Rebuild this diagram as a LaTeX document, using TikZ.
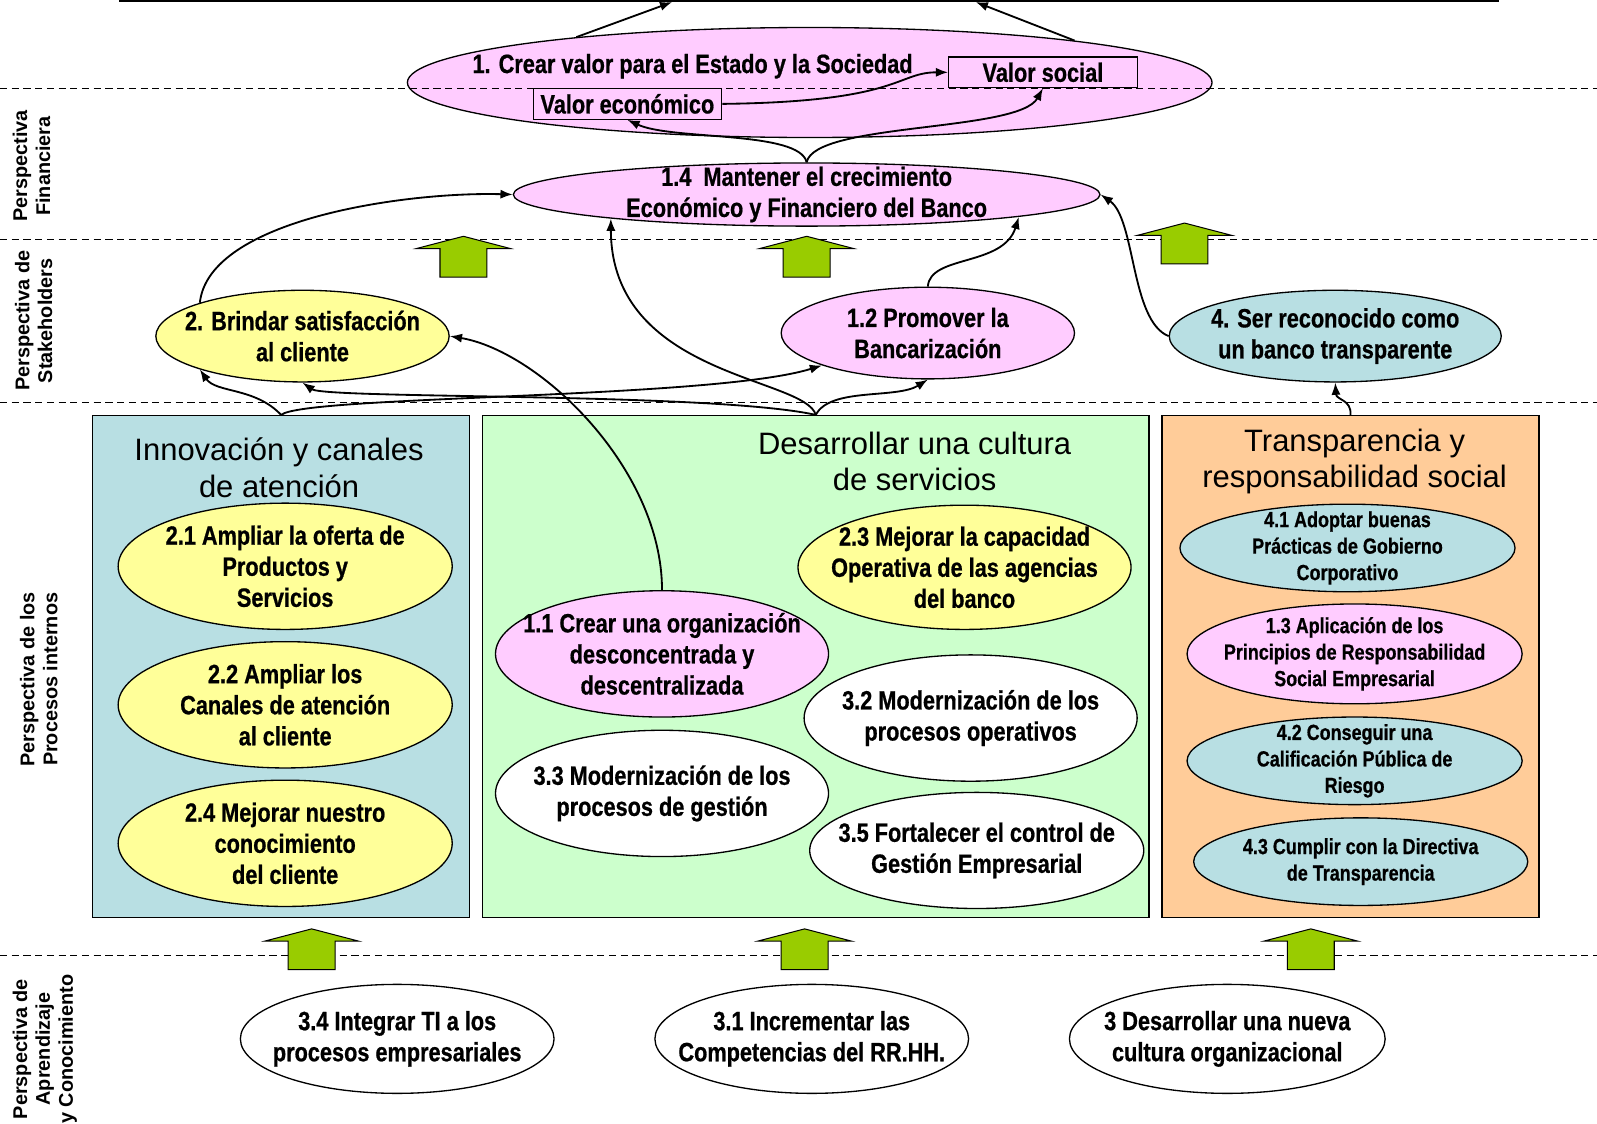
\documentclass[tikz,border=0pt]{standalone}
\usepackage{fontspec}
\setmainfont{Liberation Sans}
\newfontfamily\narrowfont{Liberation Sans}[FakeStretch=0.82, BoldFeatures={FakeBold=0.7}]
\usepackage{xcolor}
\usepackage{tikz}
\usetikzlibrary{shapes.geometric, positioning}
\usetikzlibrary{arrows.meta}
\tikzset{>={Latex[width=9pt,length=12pt]}}

\definecolor{goalpink}{HTML}{FFCCFF}
\definecolor{goalyellow}{HTML}{FFFF99}
\definecolor{goalblue}{HTML}{B8DFE3}
\definecolor{areagreen}{HTML}{CCFFCC}
\definecolor{areaorange}{HTML}{FFCC99}
\definecolor{liftgreen}{HTML}{99CC00}

\begin{document}
\begin{tikzpicture}[x=1pt, y=-1pt,
    goal/.style={ellipse, draw=black, line width=1.3pt, inner sep=0pt},
    goaltext/.style={font=\narrowfont\bfseries\fontsize{26}{30.5}\selectfont, align=center, inner sep=0pt},
    smalltext/.style={font=\narrowfont\bfseries\fontsize{21.5}{26}\selectfont, align=center, inner sep=0pt},
    valuebox/.style={rectangle, draw=black, line width=1.3pt, fill=goalpink, minimum width=185, minimum height=30, inner sep=0pt, font=\narrowfont\bfseries\fontsize{26}{30}\selectfont},
    area/.style={rectangle, draw=black, line width=1.3pt, minimum height=493, inner sep=0pt},
    areatitle/.style={font=\fontsize{30.4}{36}\selectfont, align=center, inner sep=0pt},
    persp/.style={rotate=90, font=\bfseries\fontsize{19.5}{22.5}\selectfont, align=center, inner sep=0pt},
    layerline/.style={dash pattern=on 7pt off 4.5pt, line width=1.1pt},
    link/.style={->, line width=1.8pt},
    lift/.style={fill=liftgreen, draw=black, line width=1pt}]

    \useasboundingbox (0,0) rectangle (1568,1103);

    %Top line
    \coordinate (topleft) at (117,1);
    \coordinate (topright) at (1472,1);
    \coordinate (hitleft) at (660,2);
    \coordinate (hitright) at (958,2);
    \draw[line width=2pt] (topleft) -- (topright);

    %Financial
    \node[goal, fill=goalpink, minimum width=790, minimum height=108](crear) at (795,81){};

    %Layers
    \foreach \y in {87,235,395,938}
        \draw[layerline] (0,\y) -- (1568,\y);

    \node[goaltext](crear_text) at (680,65){1. Crear valor para el Estado y la Sociedad};
    \node[valuebox](valor_social) at (1024,71){Valor social};
    \node[valuebox](valor_eco) at (616,102){Valor económico};
    \node[goal, fill=goalpink, minimum width=576, minimum height=62](mantener) at (792,191){};
    \node[goaltext](mantener_text) at (mantener){1.4\ \ Mantener el crecimiento\\Económico y Financiero del Banco};

    %Stakeholders
    \node[goal, fill=goalyellow, minimum width=288, minimum height=90](brindar) at (297,330){};
    \node[goaltext](brindar_text) at (brindar){2. Brindar satisfacción\\al cliente};
    \node[goal, fill=goalpink, minimum width=288, minimum height=90](promover) at (911,327){};
    \node[goaltext](promover_text) at (promover){1.2 Promover la\\Bancarización};
    \node[goal, fill=goalblue, minimum width=326, minimum height=90](reconocido) at (1311,330){};
    \node[goaltext](reconocido_text) at (reconocido){4. Ser reconocido como\\un banco transparente};

    %Areas
    \node[area, fill=goalblue, minimum width=370](innovacion) at (276,654.5){};
    \node[area, fill=areagreen, minimum width=654](cultura) at (801,654.5){};
    \node[area, fill=areaorange, minimum width=370](transparencia) at (1326,654.5){};
    \node[areatitle](innovacion_title) at (274,459){Innovación y canales\\de atención};
    \node[areatitle](cultura_title) at (898,453){Desarrollar una cultura\\de servicios};
    \node[areatitle](transparencia_title) at (1330,453){Transparencia y\\responsabilidad social};

    %Internal processes
    \node[goal, fill=goalyellow, minimum width=328, minimum height=124](ampliar_oferta) at (280,556){};
    \node[goaltext](ampliar_oferta_text) at (ampliar_oferta){2.1 Ampliar la oferta de\\Productos y\\Servicios};
    \node[goal, fill=goalyellow, minimum width=328, minimum height=124](ampliar_canales) at (280,692){};
    \node[goaltext](ampliar_canales_text) at (ampliar_canales){2.2 Ampliar los\\Canales de atención\\al cliente};
    \node[goal, fill=goalyellow, minimum width=328, minimum height=124](conocimiento) at (280,828){};
    \node[goaltext](conocimiento_text) at (conocimiento){2.4 Mejorar nuestro\\conocimiento\\del cliente};

    \node[goal, fill=goalyellow, minimum width=327, minimum height=122](capacidad) at (947,557){};
    \node[goaltext](capacidad_text) at (capacidad){2.3 Mejorar la capacidad\\Operativa de las agencias\\del banco};
    \node[goal, fill=goalpink, minimum width=327, minimum height=124](organizacion) at (650,642){};
    \node[goaltext](organizacion_text) at (organizacion){1.1 Crear una organización\\desconcentrada y\\descentralizada};
    \node[goal, fill=white, minimum width=327, minimum height=124](operativos) at (953,705){};
    \node[goaltext](operativos_text) at (operativos){3.2 Modernización de los\\procesos operativos};
    \node[goal, fill=white, minimum width=327, minimum height=124](gestion) at (650,779){};
    \node[goaltext](gestion_text) at (gestion){3.3 Modernización de los\\procesos de gestión};
    \node[goal, fill=white, minimum width=328, minimum height=114](control) at (959,835){};
    \node[goaltext](control_text) at (control){3.5 Fortalecer el control de\\Gestión Empresarial};

    \node[goal, fill=goalblue, minimum width=329, minimum height=86](gobierno) at (1323,538){};
    \node[smalltext](gobierno_text) at (gobierno){4.1 Adoptar buenas\\Prácticas de Gobierno\\Corporativo};
    \node[goal, fill=goalpink, minimum width=329, minimum height=98](rse) at (1330,642){};
    \node[smalltext](rse_text) at (rse){1.3 Aplicación de los\\Principios de Responsabilidad\\Social Empresarial};
    \node[goal, fill=goalblue, minimum width=329, minimum height=86](riesgo) at (1330,747){};
    \node[smalltext](riesgo_text) at (riesgo){4.2 Conseguir una\\Calificación Pública de\\Riesgo};
    \node[goal, fill=goalblue, minimum width=328, minimum height=86](directiva) at (1336,846){};
    \node[smalltext](directiva_text) at (directiva){4.3 Cumplir con la Directiva\\de Transparencia};

    %Learning
    \node[goal, fill=white, minimum width=308, minimum height=107](integrar) at (390,1020){};
    \node[goaltext](integrar_text) at (integrar){3.4 Integrar TI a los\\procesos empresariales};
    \node[goal, fill=white, minimum width=308, minimum height=107](competencias) at (797,1020){};
    \node[goaltext](competencias_text) at (competencias){3.1 Incrementar las\\Competencias del RR.HH.};
    \node[goal, fill=white, minimum width=310, minimum height=107](nueva_cultura) at (1205,1020){};
    \node[goaltext](nueva_cultura_text) at (nueva_cultura){3 Desarrollar una nueva\\cultura organizacional};

    %Perspectives
    \node[persp](persp_fin) at (31,163){Perspectiva\\Financiera};
    \node[persp](persp_stake) at (33,315){Perspectiva de\\Stakeholders};
    \node[persp](persp_proc) at (38,667){Perspectiva de los\\Procesos internos};
    \node[persp](persp_apr) at (44,1030){Perspectiva de\\Aprendizaje\\y Conocimiento};

    %Lines
    \draw[link] (crear.169) -- (hitleft);
    \draw[link] (crear.9) -- (hitright);
    \draw[link] (valor_eco.east) .. controls (885,100) and (880,71) .. (valor_social.west);
    \draw[link] (mantener.north) .. controls (785,128) and (660,138) .. (valor_eco.south);
    \draw[link] (mantener.north) .. controls (800,120) and (1000,130) .. (valor_social.south);
    \draw[link] (brindar.162) .. controls (205,215) and (400,188) .. (mantener.west);
    \draw[link] (cultura.north) .. controls (790,370) and (600,370) .. (mantener.187);
    \draw[link] (cultura.north) .. controls (700,385) and (320,392) .. (brindar.south);
    \draw[link] (cultura.north) .. controls (815,380) and (880,392) .. (promover.south);
    \draw[link] (innovacion.north) .. controls (250,380) and (212,386) .. (brindar.198);
    \draw[link] (innovacion.north) .. controls (300,388) and (700,392) .. (promover.197);
    \draw[link] (organizacion.north) .. controls (650,460) and (530,345) .. (brindar.east);
    \draw[link] (promover.north) .. controls (913,250) and (985,262) .. (mantener.-6);
    \draw[link] (reconocido.west) .. controls (1110,315) and (1115,215) .. (mantener.east);
    \draw[link] (transparencia.north) .. controls (1327,392) and (1312,393) .. (reconocido.south);

    %Lifts
    \foreach \x/\y in {455/232, 792/232, 1163/219, 306/912, 790/912, 1287/912}
        \draw[lift] (\x,\y) -- ++(46,12) -- ++(-23,0) -- ++(0,28) -- ++(-46,0) -- ++(0,-28) -- ++(-23,0) -- cycle;

\end{tikzpicture}
\end{document}
